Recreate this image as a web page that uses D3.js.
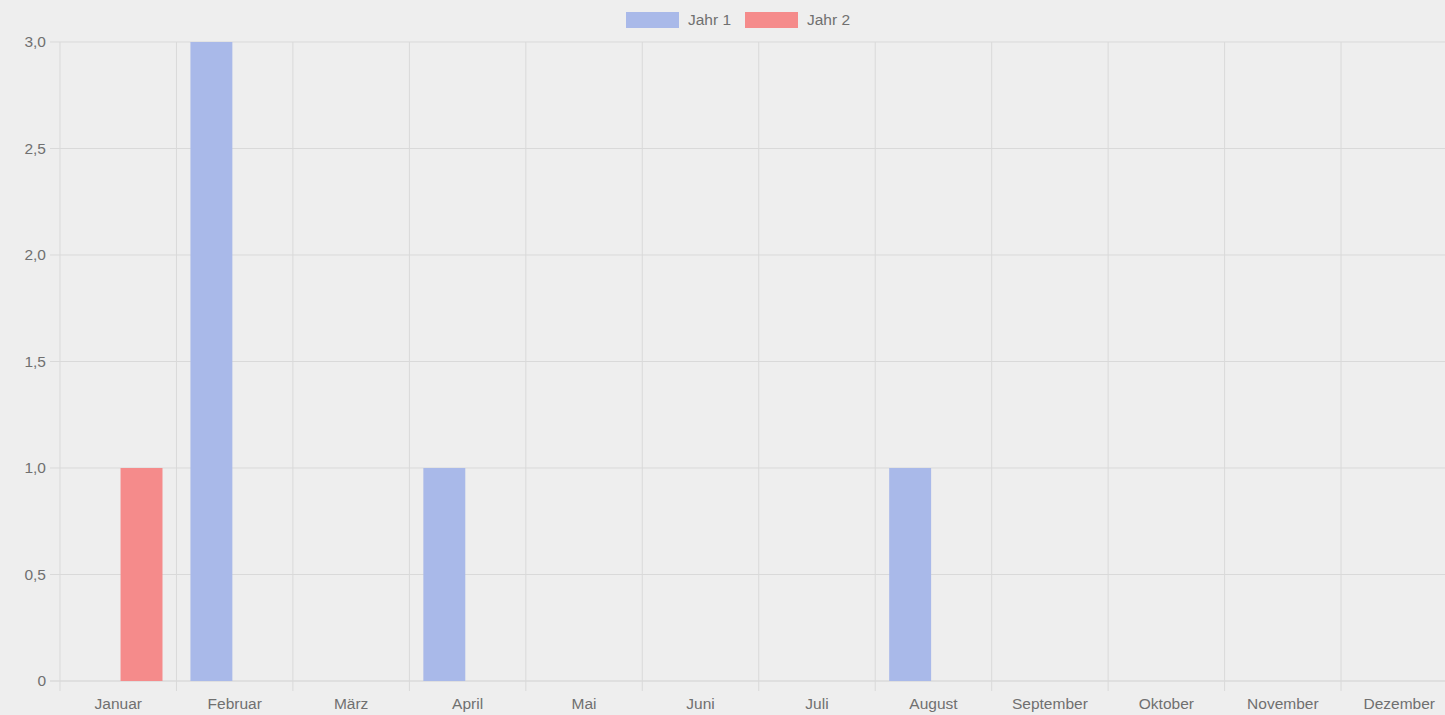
<!DOCTYPE html>
<html><head><meta charset="utf-8">
<script src="https://cdn.jsdelivr.net/npm/d3@7"></script>
<style>
html,body{margin:0;padding:0;background:#eeeeee;overflow:hidden;}
svg{display:block;font-family:"Liberation Sans",Arial,sans-serif;}
</style></head><body>
<svg id="c" width="1445" height="715"></svg>
<script>
const categories = ["Januar","Februar","März","April","Mai","Juni","Juli","August","September","Oktober","November","Dezember"];
const seriesNames = ["Jahr 1","Jahr 2"];
const jahr1 = [0,3,0,1,0,0,0,1,0,0,0,0];
const jahr2 = [1,0,0,0,0,0,0,0,0,0,0,0];
const yTicks = [0,0.5,1,1.5,2,2.5,3];
const colors = ["#a9b9e9","#f58b8b"];

(function(){
const svg = d3.select("#c");
const pL = 60, pR = 1457.5, pT = 42, pB = 681;
const x = d3.scaleBand().domain(categories).range([pL, pR]).paddingInner(0).paddingOuter(0);
const inner = d3.scaleBand().domain(seriesNames).range([0, x.bandwidth()*0.8]).paddingInner(0.1).paddingOuter(0.05);
const y = d3.scaleLinear().domain([0,3]).range([pB, pT]);
const fmt = v => v === 0 ? "0" : d3.format(".1f")(v).replace(".", ",");
const fs = 15.5, tc = "#707070";

const grid = "#d9d9d9";
svg.append("g").selectAll("line").data(yTicks).join("line")
  .attr("x1", pL-10).attr("x2", 1445).attr("y1", d=>y(d)).attr("y2", d=>y(d))
  .attr("stroke", d => d===0 ? "#d0d0d0" : grid).attr("stroke-width", 1);
const vlines = categories.map(c=>x(c));
vlines.push(pR);
svg.append("g").selectAll("line").data(vlines).join("line")
  .attr("x1", d=>d).attr("x2", d=>d).attr("y1", pT).attr("y2", pB+10)
  .attr("stroke", grid).attr("stroke-width", 1);

svg.append("g").selectAll("text").data(yTicks).join("text")
  .attr("x", pL-14).attr("y", d=>y(d)).attr("dy","0.35em")
  .attr("text-anchor","end").attr("font-size",fs).attr("fill",tc).text(fmt);
svg.append("g").selectAll("text").data(categories).join("text")
  .attr("x", d=>x(d)+x.bandwidth()/2).attr("y", 709)
  .attr("text-anchor","middle").attr("font-size",fs).attr("fill",tc).text(d=>d);

const data = [jahr1, jahr2];
data.forEach((vals, si) => {
  svg.append("g").selectAll("rect").data(vals.map((v,i)=>({c:categories[i],v})).filter(d=>d.v>0)).join("rect")
    .attr("x", d => x(d.c) + x.bandwidth()*0.1 + inner(seriesNames[si]))
    .attr("width", inner.bandwidth())
    .attr("y", d => y(d.v)).attr("height", d => y(0)-y(d.v))
    .attr("fill", colors[si]);
});

const leg = svg.append("g");
const legX = [626, 745];
seriesNames.forEach((n,i)=>{
  leg.append("rect").attr("x", legX[i]).attr("y", 12).attr("width", 53).attr("height", 16).attr("fill", colors[i]);
  leg.append("text").attr("x", legX[i]+62).attr("y", 20).attr("dy","0.35em")
    .attr("font-size",fs).attr("fill",tc).text(n);
});
})();
</script>
</body></html>
